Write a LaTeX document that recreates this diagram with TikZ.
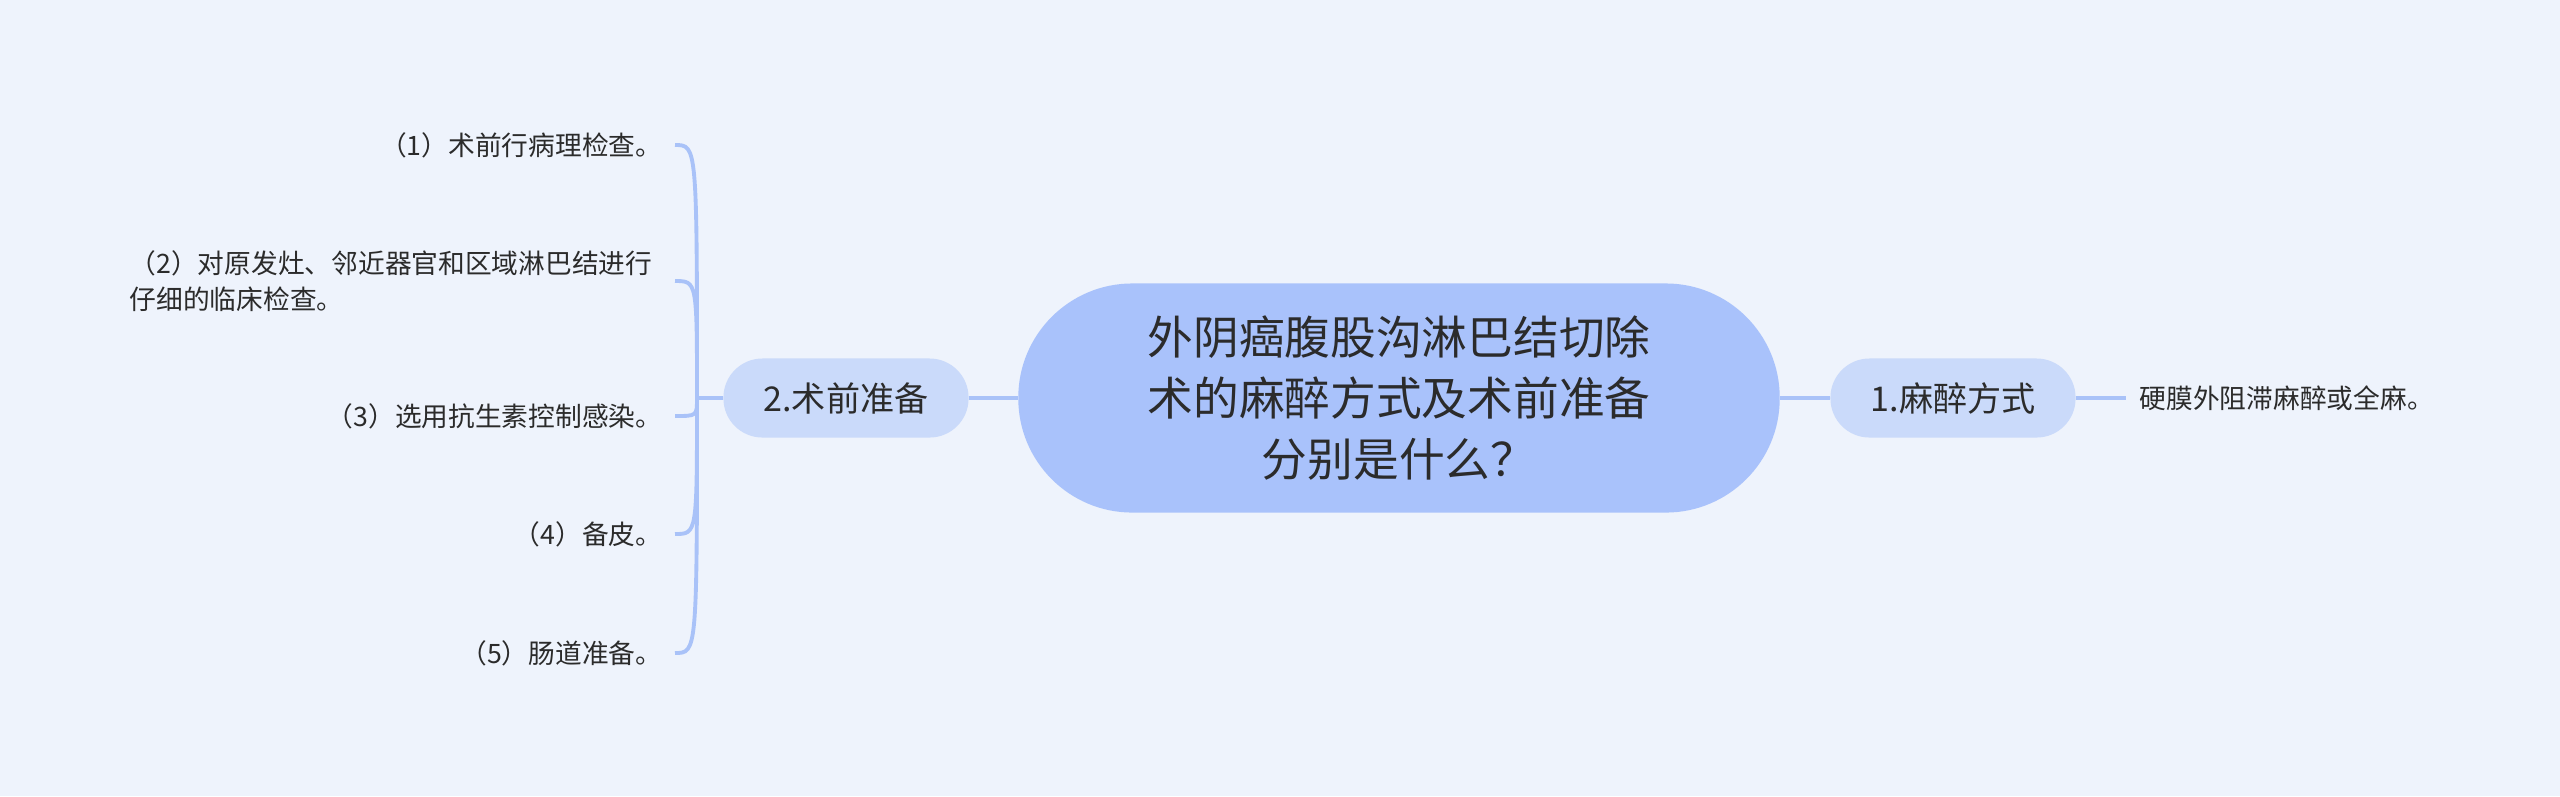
\documentclass[tikz,border=0pt]{standalone}
\usepackage{fontspec}
\setmainfont{Noto Sans CJK SC}
\usetikzlibrary{positioning}
\definecolor{pagebg}{HTML}{EEF3FC}
\definecolor{topicblue}{HTML}{A9C2FB}
\definecolor{branchblue}{HTML}{CADAFA}
\definecolor{linkblue}{HTML}{A9C2F8}
\definecolor{inkgrey}{HTML}{2B2B2B}

\begin{document}
\begin{tikzpicture}[x=0.01cm, y=-0.01cm,
        topic/.style={fill=topicblue, rounded corners=1.14cm, minimum width=7.61cm, minimum height=2.29cm,
            align=center, text=inkgrey, font=\fontsize{13}{17.4}\selectfont},
        branch/.style={fill=branchblue, rounded corners=0.39cm, minimum width=2.45cm, minimum height=0.79cm,
            text=inkgrey, font=\fontsize{9.7}{11}\selectfont},
        leaf/.style={text=inkgrey, inner ysep=2pt, align=left, font=\fontsize{7.6}{10.2}\selectfont},
        link/.style={draw=linkblue, line width=1.1pt}]

            % Page background
            \fill[pagebg] (0,0) rectangle (2560,796);
            \useasboundingbox (0,0) rectangle (2560,796);

            % Central topic and the two branches
            \node[topic] (topic) at (1399,398) {外阴癌腹股沟淋巴结切除\\术的麻醉方式及术前准备\\分别是什么？};
            \node[branch] (anaes) at (1953,398) {1.麻醉方式};
            \node[branch] (prep) at (846,398) {2.术前准备};

            % Leaves
            \node[leaf, anchor=west, inner xsep=0.13cm] (anaesA) at (2126,398) {硬膜外阻滞麻醉或全麻。};
            \node[leaf, anchor=east, inner xsep=0.12cm] (prepA) at (675,145) {（1）术前行病理检查。};
            \node[leaf, anchor=east, inner xsep=0.22cm] (prepB) at (675,281) {（2）对原发灶、邻近器官和区域淋巴结进行\\仔细的临床检查。};
            \node[leaf, anchor=east, inner xsep=0.12cm] (prepC) at (675,416) {（3）选用抗生素控制感染。};
            \node[leaf, anchor=east, inner xsep=0.12cm] (prepD) at (675,534) {（4）备皮。};
            \node[leaf, anchor=east, inner xsep=0.12cm] (prepE) at (675,653) {（5）肠道准备。};

            % Connectors
            \draw[link] (topic.east) -- (anaes.west);
            \draw[link] (anaes.east) -- (anaesA.west);
            \draw[link] (topic.west) -- (prep.east);
            \coordinate (fork) at (697,398);
            \draw[link] (prep.west) -- (fork);
            \draw[link] (fork) .. controls (697,145) .. (prepA.east); % (1)
            \draw[link] (fork) .. controls (697,281) .. (prepB.east); % (2)
            \draw[link] (fork) .. controls (697,416) .. (prepC.east); % (3)
            \draw[link] (fork) .. controls (697,534) .. (prepD.east); % (4)
            \draw[link] (fork) .. controls (697,653) .. (prepE.east); % (5)

\end{tikzpicture}
\end{document}
